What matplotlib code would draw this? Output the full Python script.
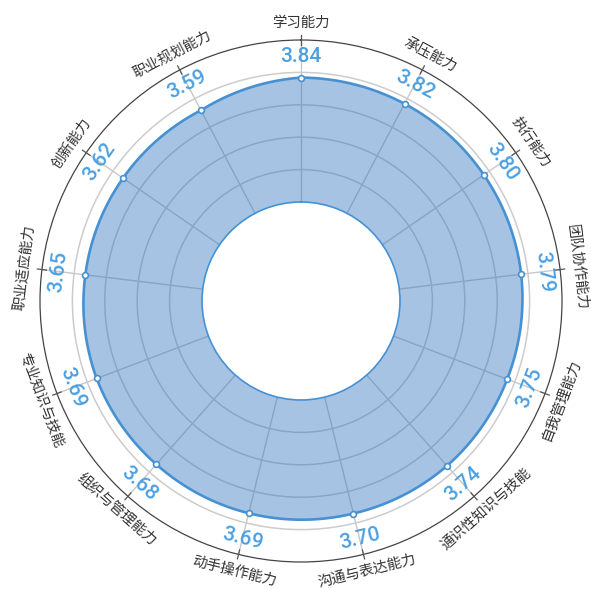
import numpy as np
import matplotlib
matplotlib.use("Agg")
import matplotlib.pyplot as plt
from matplotlib.path import Path
from matplotlib.patches import PathPatch

plt.rcParams['font.family'] = ['Noto Sans CJK SC', 'DejaVu Sans']

categories = ['学习能力', '承压能力', '执行能力', '团队协作能力', '自我管理能力',
              '通识性知识与技能', '沟通与表达能力', '动手操作能力', '组织与管理能力',
              '专业知识与技能', '职业适应能力', '创新能力', '职业规划能力']
scores = [3.84, 3.82, 3.80, 3.79, 3.75, 3.74, 3.70, 3.69, 3.68, 3.69, 3.65, 3.62, 3.59]

line_color = '#4691d2'
value_color = '#4ba0e1'

n = len(categories)
theta = np.arange(n) * 2 * np.pi / n
t_closed = np.append(theta, 2 * np.pi)
s_closed = np.append(scores, scores[0])

fig = plt.figure(figsize=(5.91, 5.89), dpi=100)
ax = fig.add_axes([40 / 591, 27 / 589, 522 / 591, 522 / 589], projection='polar')
ax.set_theta_zero_location('N')
ax.set_theta_direction(-1)
ax.set_ylim(0, 5)
ax.set_rorigin(-3.055)
ax.set_axisbelow(True)

ax.set_thetagrids(np.degrees(theta), [''] * n)
ax.set_rgrids([1, 2, 3, 4], [''] * 4)
ax.xaxis.grid(True, color='#c8c8c8', lw=1.0)
ax.yaxis.grid(True, color='#cccccc', lw=1.1)
ax.tick_params(axis='x', length=0, pad=0)

ax.spines['polar'].set_color('#444444')
ax.spines['polar'].set_linewidth(0.9)
ax.spines['inner'].set_color(line_color)
ax.spines['inner'].set_linewidth(1.2)

# filled band between the hole and the score curve
verts = np.concatenate([np.column_stack([t_closed, s_closed]),
                        np.column_stack([t_closed[::-1], np.zeros(n + 1)])])
band = Path(verts, closed=False, _interpolation_steps=60)
ax.add_patch(PathPatch(band, facecolor='#2c72c0', alpha=0.42, edgecolor='none',
                       zorder=2))
outline = Path(np.column_stack([t_closed, s_closed]), _interpolation_steps=60)
ax.add_patch(PathPatch(outline, facecolor='none', edgecolor=line_color, lw=1.9,
                       zorder=3))
ax.plot(theta, scores, ls='none', marker='o', ms=4.2, mfc='white',
        mec=line_color, mew=1.2, zorder=4)

# ticks across the outer ring
for t in theta:
    ax.plot([t, t], [4.86, 5.14], color='#555555', lw=0.9, clip_on=False, zorder=4)

for t, name, v in zip(theta, categories, scores):
    a = np.degrees(t)
    rot = -a if (a <= 90 or a >= 270) else 180 - a
    ax.text(t, 5.53, name, rotation=rot, rotation_mode='anchor',
            ha='center', va='center', fontsize=10.4, color='#333333')
    ax.text(t, 4.49, f'{v:.2f}', rotation=rot, rotation_mode='anchor',
            ha='center', va='center', fontsize=15, color=value_color,
            family='Roboto', fontweight='medium', zorder=5)

fig.savefig('out.png', dpi=100)
